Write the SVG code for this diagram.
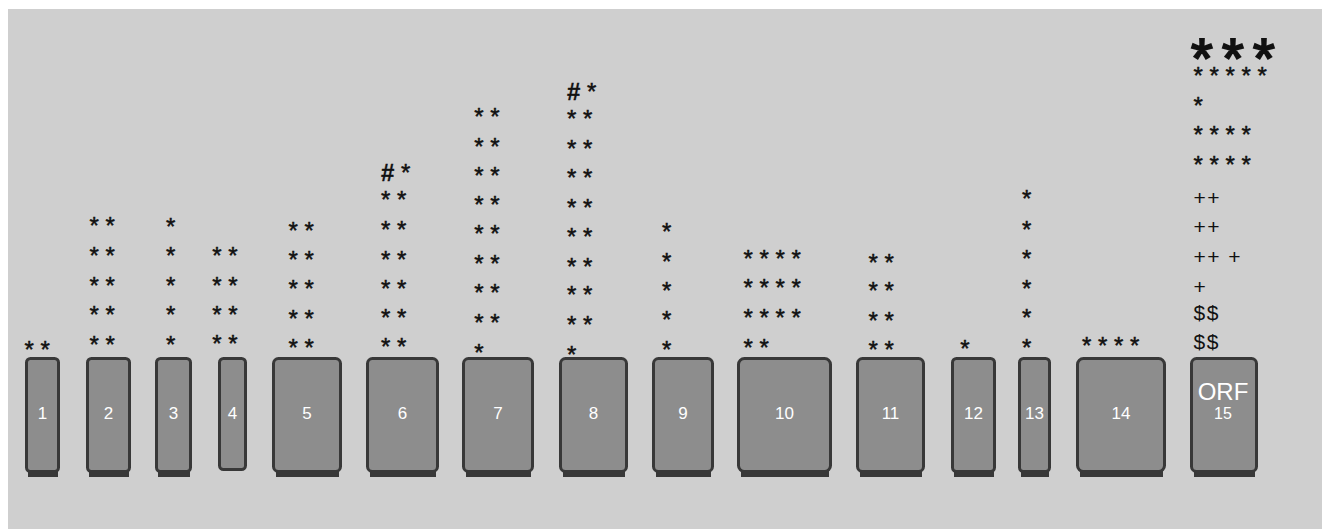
<svg xmlns="http://www.w3.org/2000/svg" width="1322" height="529" viewBox="0 0 1322 529">
<style>
.bg{fill:#cfcfcf}
.box{fill:#8d8d8d;stroke:#383838;stroke-width:3}
.sh{fill:#383838}
.lbl{font-family:"Liberation Sans",Arial,sans-serif;font-size:17px;fill:#ffffff;text-anchor:middle}
.st{font-family:"Liberation Sans",Arial,sans-serif;font-size:24px;fill:#111111;stroke:#111111;stroke-width:0.5}
.pl{font-family:"Liberation Sans",Arial,sans-serif;font-size:21px;fill:#111111;letter-spacing:1.5px}
.big{font-family:"Liberation Sans",Arial,sans-serif;font-size:56px;fill:#111111;stroke:#111111;stroke-width:2;letter-spacing:9.2px}
.hash{font-weight:bold;stroke-width:0.3}
</style>
<rect class="bg" x="8" y="9" width="1314" height="520"/>
<g id="connectors"/>
<g id="n1">
<rect class="sh" x="28" y="468" width="30" height="9"/>
<rect class="box" x="26.5" y="358.5" width="32" height="113" rx="4"/>
<text class="lbl" x="42.5" y="419">1</text>
<text class="st"><tspan x="24.5" y="357.5">* *</tspan></text>
</g>
<g id="n2">
<rect class="sh" x="89" y="468" width="40" height="9"/>
<rect class="box" x="87.5" y="358.5" width="42" height="113" rx="4"/>
<text class="lbl" x="108.5" y="419">2</text>
<text class="st"><tspan x="89.6" y="234.2">* *</tspan><tspan x="89.6" y="264">* *</tspan><tspan x="89.6" y="293.5">* *</tspan><tspan x="89.6" y="322.8">* *</tspan><tspan x="89.6" y="352.5">* *</tspan></text>
</g>
<g id="n3">
<rect class="sh" x="158" y="468" width="32" height="9"/>
<rect class="box" x="156.5" y="358.5" width="34" height="113" rx="4"/>
<text class="lbl" x="173.5" y="419">3</text>
<text class="st"><tspan x="166" y="235">*</tspan><tspan x="166" y="264.2">*</tspan><tspan x="166" y="294">*</tspan><tspan x="166" y="323.2">*</tspan><tspan x="166" y="353">*</tspan></text>
</g>
<g id="n4">
<rect class="box" x="219.5" y="358.5" width="26" height="111" rx="4"/>
<text class="lbl" x="232.5" y="419">4</text>
<text class="st"><tspan x="212.3" y="264.2">* *</tspan><tspan x="212.3" y="293.5">* *</tspan><tspan x="212.3" y="322.5">* *</tspan><tspan x="212.3" y="352.2">* *</tspan></text>
</g>
<g id="n5">
<rect class="sh" x="276" y="468" width="63" height="9"/>
<rect class="box" x="273.5" y="358.5" width="67" height="113" rx="5"/>
<text class="lbl" x="307" y="419">5</text>
<text class="st"><tspan x="288.6" y="238.8">* *</tspan><tspan x="288.6" y="268.2">* *</tspan><tspan x="288.6" y="297.2">* *</tspan><tspan x="288.6" y="326.5">* *</tspan><tspan x="288.6" y="355.8">* *</tspan></text>
</g>
<g id="n6">
<rect class="sh" x="370" y="468" width="66" height="9"/>
<rect class="box" x="367.5" y="358.5" width="70" height="113" rx="5"/>
<text class="lbl" x="402.5" y="419">6</text>
<text class="st"><tspan x="381" y="180.5"><tspan class="hash">#</tspan> *</tspan><tspan x="381" y="208.2">* *</tspan><tspan x="381" y="237.5">* *</tspan><tspan x="381" y="267.5">* *</tspan><tspan x="381" y="296.5">* *</tspan><tspan x="381" y="325.8">* *</tspan><tspan x="381" y="354.8">* *</tspan></text>
</g>
<g id="n7">
<rect class="sh" x="466" y="468" width="65" height="9"/>
<rect class="box" x="463.5" y="358.5" width="69" height="113" rx="5"/>
<text class="lbl" x="498" y="419">7</text>
<text class="st"><tspan x="474.3" y="125.2">* *</tspan><tspan x="474.3" y="154.7">* *</tspan><tspan x="474.3" y="184.2">* *</tspan><tspan x="474.3" y="213.2">* *</tspan><tspan x="474.3" y="242.2">* *</tspan><tspan x="474.3" y="271.5">* *</tspan><tspan x="474.3" y="300.8">* *</tspan><tspan x="474.3" y="330.8">* *</tspan><tspan x="474.3" y="360.5">*</tspan></text>
</g>
<g id="n8">
<rect class="sh" x="563" y="468" width="62" height="9"/>
<rect class="box" x="560.5" y="358.5" width="66" height="113" rx="5"/>
<text class="lbl" x="593.5" y="419">8</text>
<text class="st"><tspan x="567" y="99.8"><tspan class="hash">#</tspan> *</tspan><tspan x="567" y="126.5">* *</tspan><tspan x="567" y="156.5">* *</tspan><tspan x="567" y="185.5">* *</tspan><tspan x="567" y="215.5">* *</tspan><tspan x="567" y="244.8">* *</tspan><tspan x="567" y="274.5">* *</tspan><tspan x="567" y="303.2">* *</tspan><tspan x="567" y="333.2">* *</tspan><tspan x="567" y="362.5">*</tspan></text>
</g>
<g id="n9">
<rect class="sh" x="656" y="468" width="55" height="9"/>
<rect class="box" x="653.5" y="358.5" width="59" height="113" rx="5"/>
<text class="lbl" x="683" y="419">9</text>
<text class="st"><tspan x="662" y="239.8">*</tspan><tspan x="662" y="269.8">*</tspan><tspan x="662" y="299.2">*</tspan><tspan x="662" y="328.2">*</tspan><tspan x="662" y="358.2">*</tspan></text>
</g>
<g id="n10">
<rect class="sh" x="741" y="468" width="88" height="9"/>
<rect class="box" x="738.5" y="358.5" width="92" height="113" rx="6"/>
<text class="lbl" x="784.5" y="419">10</text>
<text class="st"><tspan x="743.6" y="266.5">* * * *</tspan><tspan x="743.6" y="295.8">* * * *</tspan><tspan x="743.6" y="325.5">* * * *</tspan><tspan x="743.6" y="355.5">* *</tspan></text>
</g>
<g id="n11">
<rect class="sh" x="860" y="468" width="62" height="9"/>
<rect class="box" x="857.5" y="358.5" width="66" height="113" rx="5"/>
<text class="lbl" x="890.5" y="419">11</text>
<text class="st"><tspan x="868.6" y="270.5">* *</tspan><tspan x="868.6" y="299.2">* *</tspan><tspan x="868.6" y="328.8">* *</tspan><tspan x="868.6" y="358.2">* *</tspan></text>
</g>
<g id="n12">
<rect class="sh" x="954" y="468" width="40" height="9"/>
<rect class="box" x="952.5" y="358.5" width="42" height="113" rx="4"/>
<text class="lbl" x="973.5" y="419">12</text>
<text class="st"><tspan x="960.3" y="356.5">*</tspan></text>
</g>
<g id="n13">
<rect class="sh" x="1021" y="468" width="28" height="9"/>
<rect class="box" x="1019.5" y="358.5" width="30" height="113" rx="4"/>
<text class="lbl" x="1034.5" y="419">13</text>
<text class="st"><tspan x="1022" y="207.2">*</tspan><tspan x="1022" y="237.5">*</tspan><tspan x="1022" y="266.8">*</tspan><tspan x="1022" y="296.5">*</tspan><tspan x="1022" y="325.5">*</tspan><tspan x="1022" y="355.5">*</tspan></text>
</g>
<g id="n14">
<rect class="sh" x="1080" y="468" width="83" height="9"/>
<rect class="box" x="1077.5" y="358.5" width="87" height="113" rx="6"/>
<text class="lbl" x="1121" y="419">14</text>
<text class="st"><tspan x="1082" y="354.2">* * * *</tspan></text>
</g>
<g id="n15">
<rect class="sh" x="1194" y="468" width="61" height="9"/>
<rect class="box" x="1191.5" y="358.5" width="65" height="113" rx="5"/>
<text class="lbl" x="1223" y="400" style="font-size:24px">ORF</text>
<text class="lbl" x="1223" y="419" style="font-size:16px">15</text>
<text class="big" x="1191" y="77">***</text>
<text class="st"><tspan x="1193.5" y="84.2">* * * * *</tspan><tspan x="1193.5" y="114.2">*</tspan><tspan x="1193.5" y="143.2">* * * *</tspan><tspan x="1193.5" y="173.2">* * * *</tspan></text>
<text class="pl"><tspan x="1193.5" y="205.4">++</tspan><tspan x="1193.5" y="234.4">++</tspan><tspan x="1193.5" y="264.4">++ +</tspan><tspan x="1193.5" y="293.8">+</tspan><tspan x="1193.5" y="320.3">$$</tspan><tspan x="1193.5" y="348.7">$$</tspan></text>
</g>
</svg>
